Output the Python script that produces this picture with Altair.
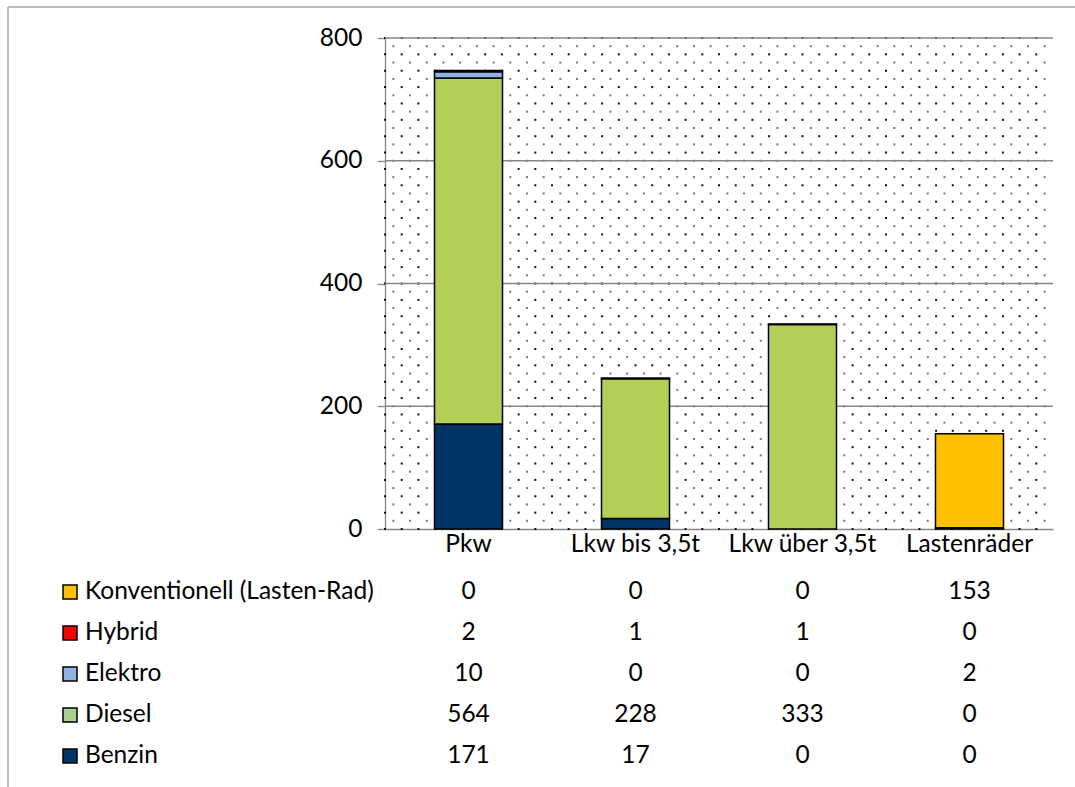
import altair as alt
import pandas as pd

categories = ["Pkw", "Lkw bis 3,5t", "Lkw über 3,5t", "Lastenräder"]
series = ["Benzin", "Diesel", "Elektro", "Hybrid", "Konventionell (Lasten-Rad)"]
benzin = [171, 17, 0, 0]
diesel = [564, 228, 333, 0]
elektro = [10, 0, 0, 2]
hybrid = [2, 1, 1, 0]
konventionell = [0, 0, 0, 153]
y_ticks = [0, 200, 400, 600, 800]
bar_colors = ["#003366", "#B3CF55", "#8DB4E2", "#FF0000", "#FFC000"]
key_colors = ["#003366", "#A9D08E", "#8DB4E2", "#FF0000", "#FFC000"]
table_order = ["Konventionell (Lasten-Rad)", "Hybrid", "Elektro", "Diesel", "Benzin"]

FONT = "Lato"
FS = 24.5
W, H = 668, 491

values = [benzin, diesel, elektro, hybrid, konventionell]
rows = []
for si, (s, vals) in enumerate(zip(series, values)):
    for c, v in zip(categories, vals):
        rows.append({"cat": c, "series": s, "value": v, "idx": si})
df = pd.DataFrame(rows)

# background dot texture (Excel 5% pattern)
pat = []
for r in range(0, 61):
    for c in range(0, 40):
        pat.append({"px": c + (0.5 if r % 2 else 0), "py": r, "kind": r % 2})
pat_df = pd.DataFrame(pat)

xscale = alt.Scale(domain=categories, paddingInner=0, paddingOuter=0)
yscale = alt.Scale(domain=[0, 800], nice=False)
yaxis = alt.Axis(values=y_ticks, grid=False, tickSize=8, tickColor="#868686", tickWidth=1.3,
                 domain=True, domainColor="#868686", domainWidth=1.3,
                 labelFont=FONT, labelFontSize=FS, labelColor="black", labelPadding=15)
xaxis = alt.Axis(labelAngle=0, ticks=False, domainColor="#868686", domainWidth=1.3,
                 labelFont=FONT, labelFontSize=FS, labelColor="black", labelPadding=3)

pattern = alt.Chart(pat_df).mark_square(size=4, opacity=1).encode(
    x=alt.X("px:Q", scale=alt.Scale(domain=[0, 40], nice=False, zero=False), axis=None),
    y=alt.Y("py:Q", scale=alt.Scale(domain=[0, 60], nice=False), axis=None),
    color=alt.Color("kind:N", scale=alt.Scale(domain=[0, 1], range=["#111111", "#777777"]), legend=None),
)

grid_df = pd.DataFrame({"v": y_ticks[1:]})
rules = alt.Chart(grid_df).mark_rule(color="#868686", strokeWidth=1.3).encode(
    y=alt.Y("v:Q", scale=yscale, axis=yaxis, title=None)
)

bars = alt.Chart(df).transform_filter("datum.value > 0").mark_bar(
    size=68, stroke="black", strokeWidth=1.5
).encode(
    x=alt.X("cat:N", sort=categories, scale=xscale, title=None, axis=xaxis),
    y=alt.Y("value:Q", stack="zero", title=None, scale=yscale, axis=yaxis),
    color=alt.Color("series:N", scale=alt.Scale(domain=series, range=bar_colors), legend=None),
    order=alt.Order("idx:Q"),
)

main = alt.layer(rules, bars)

yrow = alt.Scale(type="point", domain=table_order, range=[554, 718], padding=0)

table = alt.Chart(df).mark_text(font=FONT, fontSize=FS, color="black", baseline="middle").encode(
    x=alt.X("cat:N", scale=xscale, axis=None),
    y=alt.Y("series:N", scale=yrow, axis=None),
    text=alt.Text("value:Q"),
)

labels_df = pd.DataFrame({"series": series, "key": key_colors})
row_labels = alt.Chart(labels_df).mark_text(font=FONT, fontSize=FS, color="black",
                                            baseline="middle", align="left").encode(
    x=alt.value(-300),
    y=alt.Y("series:N", scale=yrow, axis=None),
    text="series:N",
)
keys = alt.Chart(labels_df).mark_square(size=196, stroke="black", strokeWidth=1.5, opacity=1).encode(
    x=alt.value(-315),
    y=alt.Y("series:N", scale=yrow, axis=None),
    color=alt.Color("series:N", scale=alt.Scale(domain=series, range=key_colors), legend=None),
)

frame_df = pd.DataFrame({"a": [0]})
frame_left = alt.Chart(frame_df).mark_rule(color="#A6A6A6", strokeWidth=1.5).encode(
    x=alt.value(-377), y=alt.value(-31), y2=alt.value(800)
)
frame_top = alt.Chart(frame_df).mark_rule(color="#A6A6A6", strokeWidth=1.5).encode(
    x=alt.value(-377), x2=alt.value(720), y=alt.value(-31)
)

chart = alt.layer(pattern, main, table, row_labels, keys, frame_left, frame_top).resolve_scale(
    x="independent", y="independent", color="independent"
).properties(
    width=W, height=H,
    padding={"left": 385, "top": 38, "right": 22, "bottom": 258},
    autosize=alt.AutoSizeParams(type="none"),
).configure_view(stroke=None)

chart.save("out.html", embed_options={"renderer": "svg", "actions": False})
